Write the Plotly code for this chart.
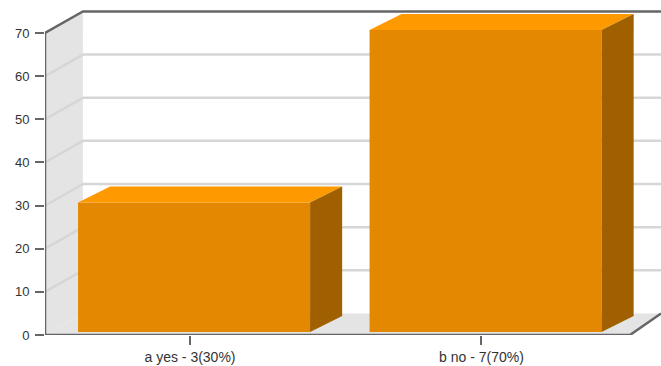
import plotly.graph_objects as go

# Chart data
categories = ["a yes - 3(30%)", "b no - 7(70%)"]
percent_values = [30, 70]
y_ticks = [0, 10, 20, 30, 40, 50, 60, 70]

# Faux-3D geometry, in axis units
X_MIN, X_MAX = -0.4974, 1.6158
Y_MAX = 77.65
X_FRONT_END = 1.5094
WALL_DX, WALL_DY = 0.130, 5.0
BAR_DX, BAR_DY = 0.110, 3.7
BAR_LEFT, BAR_WIDTH = -0.384, 0.796
BAR_LIFT = 0.7

FRONT, TOP, SIDE = "#e38800", "#ff9900", "#a06000"
WALL, GRID, AXIS = "#e4e4e4", "#d6d6d6", "#666666"


def path(points):
    return "M " + " L ".join(f"{x},{y}" for x, y in points) + " Z"


def poly_shape(points, color):
    return dict(type="path", path=path(points), xref="x", yref="y", layer="below",
                fillcolor=color, line=dict(width=0))


def line_shape(x0, y0, x1, y1, color, width, layer="below"):
    return dict(type="line", x0=x0, y0=y0, x1=x1, y1=y1, xref="x", yref="y",
                layer=layer, line=dict(color=color, width=width))


top_value = y_ticks[-1]
back_x = X_MIN + WALL_DX

shapes = [
    poly_shape([(X_MIN, 0), (back_x, WALL_DY), (back_x, top_value + WALL_DY), (X_MIN, top_value)], WALL),
    poly_shape([(X_MIN, 0), (back_x, WALL_DY), (X_MAX, WALL_DY), (X_FRONT_END, 0)], WALL),
]
for t in y_ticks[1:-1]:
    shapes.append(line_shape(X_MIN, t, back_x, t + WALL_DY, GRID, 2.5))
    shapes.append(line_shape(back_x, t + WALL_DY, X_MAX, t + WALL_DY, GRID, 2.5))

fig = go.Figure()

# Front faces of the bars
fig.add_trace(go.Bar(
    x=list(range(len(categories))), y=percent_values, base=BAR_LIFT,
    width=BAR_WIDTH, offset=BAR_LEFT,
    marker=dict(color=FRONT, line=dict(width=0)),
    showlegend=False, hoverinfo="skip",
))

# Top and side faces of the bars
for i, v in enumerate(percent_values):
    left = i + BAR_LEFT
    right = left + BAR_WIDTH
    low = BAR_LIFT
    high = v + BAR_LIFT
    fig.add_trace(go.Scatter(
        x=[left, left + BAR_DX, right + BAR_DX, right, left],
        y=[high, high + BAR_DY, high + BAR_DY, high, high],
        mode="lines", fill="toself", fillcolor=TOP, line=dict(width=0),
        showlegend=False, hoverinfo="skip",
    ))
    fig.add_trace(go.Scatter(
        x=[right, right + BAR_DX, right + BAR_DX, right, right],
        y=[high, high + BAR_DY, low + BAR_DY, low, high],
        mode="lines", fill="toself", fillcolor=SIDE, line=dict(width=0),
        showlegend=False, hoverinfo="skip",
    ))

# Frame lines: left wall edge, top of the back wall, front floor edge
frame = [
    ([X_MIN, X_MIN], [0, top_value]),
    ([X_MIN, back_x, X_MAX], [top_value, top_value + WALL_DY, top_value + WALL_DY]),
    ([X_MIN, X_FRONT_END, X_MAX], [0, 0, WALL_DY]),
]
for xs, ys in frame:
    fig.add_trace(go.Scatter(
        x=xs, y=ys, mode="lines", line=dict(color=AXIS, width=2.5),
        showlegend=False, hoverinfo="skip", cliponaxis=False,
    ))

fig.update_layout(
    width=661, height=366,
    margin=dict(l=45, r=0, t=0, b=31),
    paper_bgcolor="white", plot_bgcolor="white",
    shapes=shapes,
    font=dict(family="Liberation Sans, Arial, sans-serif", size=13, color="#333333"),
    xaxis=dict(
        range=[X_MIN, X_MAX], tickmode="array",
        tickvals=list(range(len(categories))), ticktext=categories,
        ticks="outside", ticklen=9, tickwidth=2, tickcolor=AXIS,
        showgrid=False, zeroline=False, showline=False, fixedrange=True,
        tickfont=dict(size=14),
    ),
    yaxis=dict(
        range=[0, Y_MAX], tickmode="array", tickvals=y_ticks,
        ticks="outside", ticklen=9, tickwidth=2, tickcolor=AXIS,
        showgrid=False, zeroline=False, showline=False, fixedrange=True,
        tickfont=dict(size=13), ticklabelstandoff=3,
    ),
)

fig.write_html("out.html", config=dict(displayModeBar=False))
